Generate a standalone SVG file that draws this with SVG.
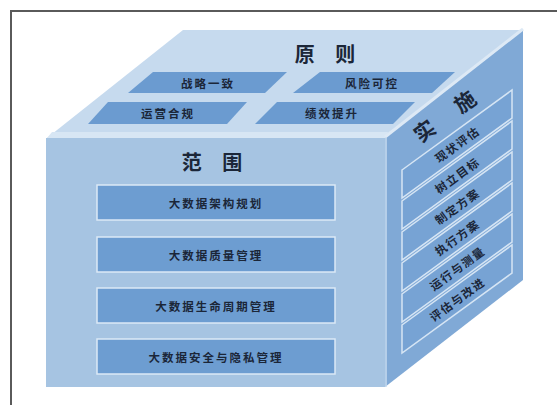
<svg xmlns="http://www.w3.org/2000/svg" width="557" height="405" viewBox="0 0 557 405">
<style>
.t{font-family:"Noto Sans CJK SC","Noto Sans",sans-serif;font-weight:bold;fill:#1b2638;text-anchor:middle;dominant-baseline:central}
.big{font-size:20px;letter-spacing:8px}
.sm{font-size:11.5px;letter-spacing:2px}
.xs{font-size:11.5px;letter-spacing:1.5px}
.tile{fill:#6b9bd0}
.box{fill:#6d9dd1;stroke:#dbe9f6;stroke-width:1.5}
.strip{fill:#77a3d4;stroke:#d6e5f4;stroke-width:1.5}
</style>
<rect width="557" height="405" fill="#ffffff"/>
<rect x="11" y="11" width="560" height="410" fill="none" stroke="#5a5a5a" stroke-width="2"/>
<g id="top-face">
<polygon points="47,138 183,30 523,30 385,138" fill="#c6daee"/>
<polygon points="47,138 385,138 388,132 52,132" fill="#d7e6f4"/>
<text class="t big" x="329" y="53">原 则</text>
</g>
<g id="tile-zhanlue"><polygon class="tile" points="153,72 287,72 265,93 128,93"/><text class="t sm" x="208" y="83">战略一致</text></g>
<g id="tile-fengxian"><polygon class="tile" points="320,72 455,72 432,93 293,93"/><text class="t sm" x="372" y="83">风险可控</text></g>
<g id="tile-yunying"><polygon class="tile" points="108,102 247,102 227,124 88,124"/><text class="t sm" x="168" y="113">运营合规</text></g>
<g id="tile-jixiao"><polygon class="tile" points="277,102 415,102 393,124 255,124"/><text class="t sm" x="332" y="113">绩效提升</text></g>
<g id="front-face">
<rect x="46" y="138" width="339" height="249" fill="#a6c4e2"/>
<text class="t big" x="216" y="161">范 围</text>
</g>
<g id="box-1"><rect class="box" x="97" y="185" width="238" height="35"/><text class="t sm" x="216" y="203">大数据架构规划</text></g>
<g id="box-2"><rect class="box" x="97" y="237" width="238" height="35"/><text class="t sm" x="216" y="255">大数据质量管理</text></g>
<g id="box-3"><rect class="box" x="97" y="288" width="238" height="35"/><text class="t sm" x="216" y="306">大数据生命周期管理</text></g>
<g id="box-4"><rect class="box" x="97" y="339" width="238" height="35"/><text class="t sm" x="216" y="357">大数据安全与隐私管理</text></g>
<g id="right-face">
<polygon points="385,138 523,30 523,280 385,387" fill="#80a9d6"/>
<line x1="386" y1="138" x2="386" y2="387" stroke="#c9dcef" stroke-width="1.5"/>
<line x1="385" y1="137" x2="523" y2="29" stroke="#dde9f5" stroke-width="3"/>
<text class="t big" style="font-size:21px;letter-spacing:12px" transform="translate(449,112) rotate(-36)">实 施</text>
</g>
<g id="strip-1"><polygon class="strip" points="402,170 512,90 512,118 402,198"/><text class="t xs" transform="translate(457,144) rotate(-36)">现状评估</text></g>
<g id="strip-2"><polygon class="strip" points="402,201 512,121 512,149 402,229"/><text class="t xs" transform="translate(457,175) rotate(-36)">树立目标</text></g>
<g id="strip-3"><polygon class="strip" points="402,232 512,152 512,180 402,260"/><text class="t xs" transform="translate(457,206) rotate(-36)">制定方案</text></g>
<g id="strip-4"><polygon class="strip" points="402,263 512,183 512,211 402,291"/><text class="t xs" transform="translate(457,237) rotate(-36)">执行方案</text></g>
<g id="strip-5"><polygon class="strip" points="402,294 512,214 512,242 402,322"/><text class="t xs" transform="translate(457,268) rotate(-36)">运行与测量</text></g>
<g id="strip-6"><polygon class="strip" points="402,325 512,245 512,273 402,353"/><text class="t xs" transform="translate(457,299) rotate(-36)">评估与改进</text></g>
<g id="connectors"/>
</svg>
